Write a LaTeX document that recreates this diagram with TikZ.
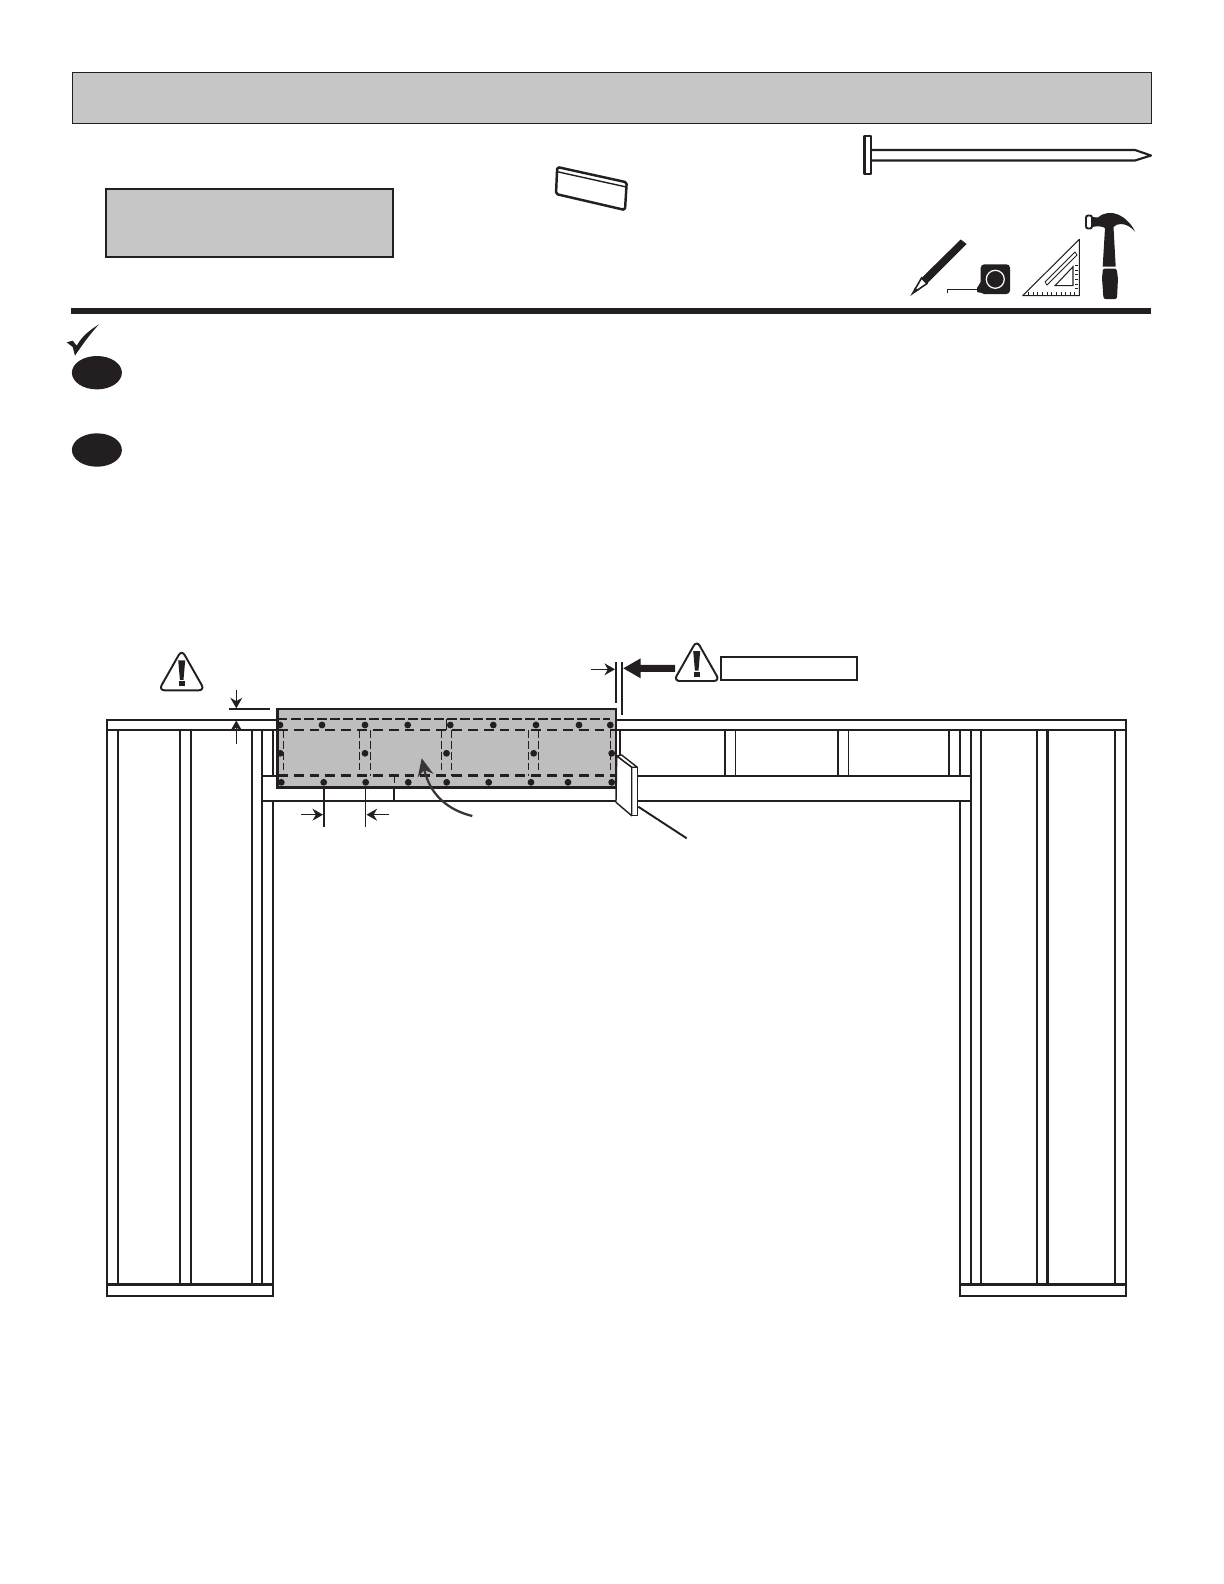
\documentclass[tikz,border=0pt]{standalone}
\usepackage{amsmath}
\usepackage{amssymb}
\usepackage[table]{xcolor}
\definecolor{grisBanda}{RGB}{198, 198, 198}
\definecolor{grisPanel}{RGB}{190, 190, 190}
\definecolor{negro}{RGB}{35, 31, 32}
\usepackage{tikz}
\usetikzlibrary{arrows.meta,calc}
\tikzstyle{stud}  =[draw=negro, line width=0.68pt]
\tikzstyle{thin stud}  =[draw=negro, line width=0.5pt]
\tikzstyle{block}  =[draw=negro, line width=0.6pt, fill=white,
                    line join=round]
\tikzstyle{dimline}  =[draw=negro, line width=0.35pt,
                    -{Stealth[length=3pt,width=3.4pt]}]
\tikzstyle{dimstop}  =[draw=negro, line width=0.65pt]
\tikzstyle{dashfine}  =[draw=negro, line width=0.38pt,
                    dash pattern=on 2.7pt off 1pt]
\tikzstyle{dashwide}  =[draw=negro, line width=0.8pt,
                    dash pattern=on 2.8pt off 1.7pt]
\tikzstyle{dashstud}  =[draw=negro, line width=0.45pt,
                    dash pattern=on 2.2pt off 0.9pt]
\tikzstyle{nailhole}=[fill=negro, draw=none]
\begin{document}
\begin{tikzpicture}[x=0.01cm,y=-0.01cm]
    \useasboundingbox (0,0) rectangle (1224,1584);

    % header band and note box
    \draw[fill=grisBanda,draw=negro,line width=0.22pt] (72,72) rectangle (1151,123);
    \draw[fill=grisBanda,draw=negro,line width=0.6pt] (106,189) rectangle (393,257);
    \fill[negro] (71,308) rectangle (1151,314);

    % part block
    \draw[block,line width=0.7pt,rounded corners=0.5pt] (557.2,167) -- (626.7,182.3) -- (625,210) -- (556,194) -- cycle;
    \draw[draw=negro,line width=0.4pt] (557.2,171.7) -- (625,186.7);

    % nail
    \draw[block] (871,150) -- (1135,150) -- (1151,155.5) -- (1135,160.5) -- (871,160.5);
    \draw[block] (864.5,136) rectangle (871,174);

    % pencil
    \fill[negro] (960.7,239.5) -- (966.7,244) -- (927,283.5) -- (921.5,278) -- cycle;
    \draw[draw=negro,line width=0.45pt,fill=white] (921.5,278) -- (927,283.5) -- (912.7,293.3) -- cycle;
    \fill[negro] (912.7,293.3) -- (915,287.5) -- (918.5,290.5) -- cycle;

    % tape measure
    \fill[negro,rounded corners=1pt] (980.7,264.3) rectangle (1010,294);
    \fill[negro] (977,288) -- (982,280) -- (982,293) -- (977,292) -- cycle;
    \draw[draw=white,line width=0.35pt] (995.3,279.3) circle (9);
    \draw[draw=negro,line width=0.5pt] (947.5,292.5) -- (947.5,289.5) -- (980,289.5);

    % framing square
    \draw[draw=negro,line width=0.3pt,line join=round] (1022.7,295.7) -- (1079.3,239.3) -- (1079.3,295.7) -- cycle;
    \draw[draw=negro,line width=0.3pt] (1055,285.7) -- (1073,266.7) -- (1073,285.7) -- cycle;
    \draw[draw=negro,line width=0.22pt] (1045,282) -- (1075,252) -- (1077,255) -- (1047,285) -- cycle;
    \draw[draw=negro,line width=0.7pt,dash pattern=on 0.22pt off 1.1pt] (1028,293.5) -- (1077,293.5);
    \draw[draw=negro,line width=0.7pt,dash pattern=on 0.22pt off 1.1pt] (1076.5,265) -- (1076.5,290);

    % hammer
    \draw[draw=negro,line width=0.55pt,rounded corners=0.6pt] (1086,215.5) rectangle (1092,228.5);
    \fill[negro] (1092,217) -- (1098,217.5) .. controls (1104,212) and (1112,212) .. (1118,214.5)
        .. controls (1126,218) and (1132,225) .. (1135,231.5)
        .. controls (1131,227) and (1126,224) .. (1121,224)
        .. controls (1118,224) and (1115,225) .. (1113.5,227)
        -- (1115.7,266.5) -- (1102.7,266.5) -- (1105,228)
        .. controls (1102,226) and (1097,226) .. (1092,227) -- cycle;
    \fill[negro,rounded corners=0.6pt] (1103,268.5) -- (1116.5,268.5) -- (1118,278) -- (1117,299) -- (1103.5,299) -- (1102,278) -- cycle;

    % check mark and step bullets
    \fill[negro] (66.7,342.3) -- (72.7,340.7) -- (76.7,345.7) .. controls (82,336) and (90,330) .. (99,324.3)
        .. controls (92,332) and (84,342) .. (75,355.7) -- (72.7,347) -- cycle;
    \foreach \by in {372.7,450}
        \fill[negro] (96.9,\by) ellipse (25 and 16.7);

    % caution signs
    \foreach \wx/\wy in {181.7/690.3,696.7/681}{
    \begin{scope}[shift={(\wx,\wy)}]
        \draw[draw=negro,line width=0.55pt,rounded corners=1.7pt] (0,-40.5) -- (23,0) -- (-23,0) -- cycle;
        \fill[negro] (-3.5,-30) -- (3.5,-30) -- (1.8,-10.5) -- (-1.8,-10.5) -- cycle;
        \fill[negro] (-3,-9) rectangle (3,-4);
    \end{scope}
    }
    \draw[draw=negro,line width=0.6pt] (720.7,656.7) rectangle (857.3,680.3);

    % wall framing
    \foreach \i in {107,118,180,191,252.3,262,273,960,970.7,981,1037,1047.3,1115,1126}
        \draw[stud] (\i,730) -- (\i,1284.5);
    \foreach \i in {725,735.5,838,848.5,949,620.3}
        \draw[thin stud] (\i,730) -- (\i,776);
    \draw[thin stud,fill=white] (107,719.7) rectangle (1126,730);
    \draw[stud] (107,730) -- (1126,730);
    \draw[stud,fill=white] (262,776) rectangle (970.7,800.7);
    \foreach \i/\j in {107/273,960/1126}
        \draw[stud,fill=white] (\i,1284.5) rectangle (\j,1295.7);

    % sheathing panel
    \draw[draw=negro,line width=0.8pt,fill=grisPanel] (277.2,709) rectangle (616,787.7);
    \draw[dashfine] (278,719) -- (610,719);
    \draw[thin stud,line width=0.3pt] (446.7,719) -- (446.7,730);
    \foreach \j in {730,775.7}
        \draw[dashwide] (278,\j) -- (615,\j);
    \foreach \i in {283.3,359.3,370.3,441.7,451.7,528.7,538.7,610.3}
        \draw[dashstud] (\i,730) -- (\i,775.7);
    \draw[dashstud,line width=0.3pt] (394.3,775.7) -- (394.3,788);
    \foreach \i in {280,322,365,407.7,450.3,493.3,536,579,610.3}
        \fill[nailhole] (\i,725) circle (3.4);
    \foreach \i in {280.3,365,446.5,533.7,611.7}
        \fill[nailhole] (\i,753.3) circle (3.4);
    \foreach \i in {281.3,323.7,365.7,408.3,446.7,488.7,531,568,611.7}
        \fill[nailhole] (\i,782.3) circle (3.4);

    % curved leader
    \draw[draw=negro!90,line width=0.65pt,-{Stealth[length=5pt,width=4.5pt]}] (472.3,816) .. controls (448,810) and (430,795) .. (421.7,758.3);

    % spacer block and its leader
    \draw[block,line width=0.4pt] (616.7,756) -- (621.7,755) -- (637.3,767.3) -- (631.7,767.3) -- cycle;
    \draw[block,line width=0.4pt] (631.7,767.3) -- (637.3,767.3) -- (637.3,815.7) -- (631.7,815.7) -- cycle;
    \draw[block,line width=0.4pt] (616.7,756) -- (631.7,767.3) -- (631.7,815.7) -- (616,802.3) -- cycle;
    \coordinate (spacerEnd) at (638.3,806.7);
    \coordinate (spacerTail) at (686.7,838.3);
    \draw[draw=negro,line width=0.55pt] (spacerEnd) -- (spacerTail);

    % dimension marks
    \draw[dimstop] (229,709) -- (270,709);
    \draw[dimline] (236.3,690.3) -- (236.3,708.3);
    \draw[dimline] (236.3,744.3) -- (236.3,720.5);
    \draw[dimstop] (323.7,788) -- (323.7,826.7);
    \draw[dimstop,line width=0.35pt] (365.3,788) -- (365.3,826.7);
    \draw[dimstop] (394.3,788) -- (394.3,800.7);
    \draw[dimline] (301,814.7) -- (323,814.7);
    \draw[dimline] (388.7,814.7) -- (366.5,814.7);
    \draw[dimstop] (615.7,662.3) -- (615.7,702.7);
    \draw[dimstop] (621.7,662.3) -- (621.7,715);
    \draw[dimline] (591,669.3) -- (615,669.3);
    \fill[negro] (623.3,668.3) -- (640.7,658.3) -- (640.7,664.8) -- (675,664.8) -- (675,671.8) -- (640.7,671.8) -- (640.7,678.3) -- cycle;

\end{tikzpicture}
\end{document}
